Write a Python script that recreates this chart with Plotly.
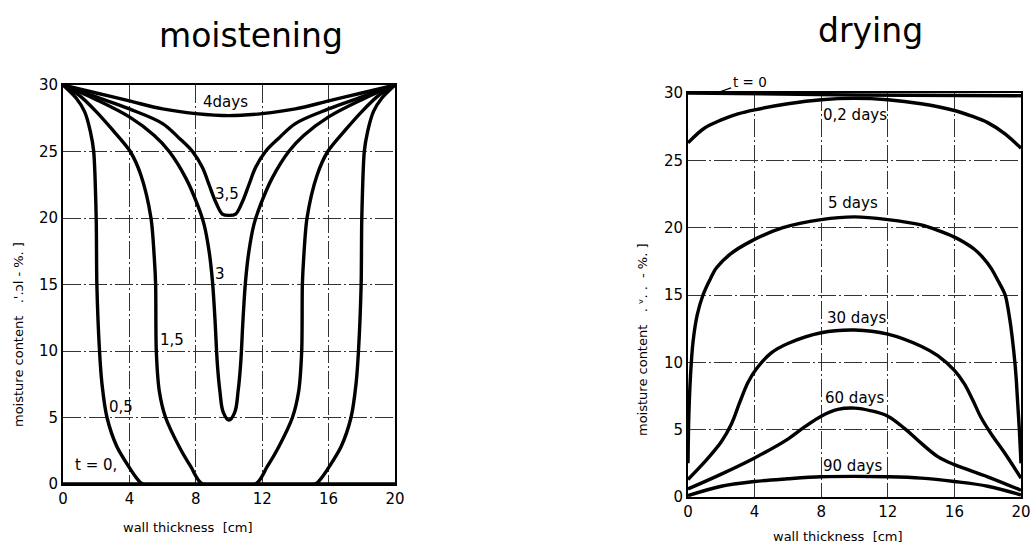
import plotly.graph_objects as go

# ---------------- data: moistening (left panel) ----------------
m_t0_x = [0, 20]
m_t0_y = [0, 0]

m_05_x = [0, 0.8, 1.3, 1.65, 1.85, 2.0, 2.04, 2.2, 2.35, 2.65, 3.25, 3.96, 4.4, 4.8, 15.2, 15.6, 16.04, 16.75, 17.35, 17.65, 17.8, 17.96, 18.0, 18.15, 18.35, 18.7, 19.2, 20]
m_05_y = [30, 29, 28, 26.5, 25, 20, 15, 10, 7.5, 5, 2.8, 1.3, 0.5, 0, 0, 0.5, 1.3, 2.8, 5, 7.5, 10, 15, 20, 25, 26.5, 28, 29, 30]

m_15_x = [0, 1, 2, 3, 4.05, 4.7, 5.3, 5.5, 5.58, 5.62, 5.8, 6.18, 7.0, 7.7, 8.4, 11.6, 12.3, 13.0, 13.82, 14.2, 14.38, 14.42, 14.5, 14.7, 15.3, 15.95, 17, 18, 19, 20]
m_15_y = [30, 29.2, 28, 26.6, 25, 23.2, 20, 17, 15, 10, 7, 5, 2.8, 1.3, 0, 0, 1.3, 2.8, 5, 7, 10, 15, 17, 20, 23.2, 25, 26.6, 28, 29.2, 30]

m_3_x = [0, 2, 4, 5.5, 6.4, 7.4, 8.1, 8.5, 8.8, 9.0, 9.15, 9.3, 9.45, 9.65, 10, 10.35, 10.55, 10.7, 10.85, 11.0, 11.2, 11.5, 11.9, 12.6, 13.6, 14.5, 16, 18, 20]
m_3_y = [30, 28.9, 27.6, 26.2, 25, 23, 21, 19.5, 17.5, 15.3, 12.5, 9, 7, 5.4, 4.8, 5.4, 7, 9, 12.5, 15.3, 17.5, 19.5, 21, 23, 25, 26.2, 27.6, 28.9, 30]

m_35_x = [0, 2, 4, 6, 7, 7.8, 8.4, 8.8, 9.2, 9.6, 10, 10.4, 10.8, 11.2, 11.6, 12.2, 13, 14, 16, 18, 20]
m_35_y = [30, 29.1, 28.2, 27.1, 26, 25, 23.8, 22.5, 21.2, 20.3, 20.2, 20.3, 21.2, 22.5, 23.8, 25, 26, 27.1, 28.2, 29.1, 30]

m_4_x = [0, 2, 4, 6, 8, 10, 12, 14, 16, 18, 20]
m_4_y = [30, 29.4, 28.8, 28.2, 27.85, 27.7, 27.85, 28.2, 28.8, 29.4, 30]

# ---------------- data: drying (right panel) ----------------
d_t0_x = [0, 10, 20]
d_t0_y = [30.0, 29.85, 29.8]

d_02_x = [0, 1, 2, 3, 4, 6, 8, 10, 12, 14, 16, 17, 18, 19, 20]
d_02_y = [26.3, 27.4, 28.0, 28.45, 28.75, 29.2, 29.5, 29.6, 29.5, 29.2, 28.7, 28.3, 27.8, 27.0, 25.9]

d_5_x = [0, 0.05, 0.15, 0.3, 0.55, 0.9, 1.3, 1.7, 2.5, 3.8, 5.7, 8, 10, 12, 14, 15, 16, 16.6, 17.2, 17.7, 18.2, 18.65, 19.05, 19.35, 19.55, 19.7, 19.8, 19.9, 20]
d_5_y = [2.5, 6, 9, 11.5, 13.5, 15, 16.1, 17, 18, 19, 20, 20.6, 20.8, 20.6, 20.2, 19.8, 19.3, 18.9, 18.4, 17.8, 17, 16, 15, 13, 11, 9, 7, 5, 2.5]

d_30_x = [0, 1, 2, 2.6, 3.1, 3.6, 4.1, 5, 6, 8, 10, 12, 14, 15, 16, 16.6, 17.1, 17.6, 18.2, 19, 20]
d_30_y = [1.3, 2.6, 4.1, 5.4, 7.0, 8.5, 9.5, 10.7, 11.4, 12.2, 12.4, 12.1, 11.2, 10.5, 9.4, 8.4, 7.2, 5.9, 4.7, 3.3, 1.4]

d_60_x = [0, 2, 4, 6, 7, 8, 9, 10, 11, 12, 13, 14, 15, 16, 18, 20]
d_60_y = [0.6, 1.7, 2.9, 4.3, 5.2, 6.0, 6.5, 6.6, 6.4, 6.0, 5.1, 4.0, 3.0, 2.4, 1.5, 0.5]

d_90_x = [0, 2, 4, 6, 8, 10, 12, 14, 16, 18, 20]
d_90_y = [0.1, 0.8, 1.15, 1.35, 1.5, 1.53, 1.5, 1.4, 1.15, 0.8, 0.15]

# ---------------- labels ----------------
m_labels = ["4days", "3,5", "3", "1,5", "0,5", "t = 0,"]
m_lab_x = [9.8, 9.85, 9.45, 6.55, 3.5, 2.0]
m_lab_y = [28.7, 21.8, 15.8, 10.8, 5.8, 1.4]

d_labels = ["0,2 days", "5 days", "30 days", "60 days", "90 days"]
d_lab_x = [10.05, 9.9, 10.1, 9.97, 9.9]
d_lab_y = [28.4, 21.8, 13.3, 7.35, 2.3]

x_ticks = [0, 4, 8, 12, 16, 20]
y_ticks = [0, 5, 10, 15, 20, 25, 30]

FONT = "DejaVu Sans"
LW = 3.4

fig = go.Figure()

def add_curve(x, y, xa, ya, sm):
    fig.add_trace(go.Scatter(x=x, y=y, mode="lines", xaxis=xa, yaxis=ya,
                             line=dict(color="black", width=LW, shape="spline", smoothing=sm),
                             showlegend=False, hoverinfo="skip"))

for xs, ys, sm in [(m_t0_x, m_t0_y, 0.7), (m_05_x, m_05_y, 0.7), (m_15_x, m_15_y, 0.8),
                   (m_3_x, m_3_y, 1.0), (m_35_x, m_35_y, 1.0), (m_4_x, m_4_y, 1.0)]:
    add_curve(xs, ys, "x", "y", sm)

for xs, ys, sm in [(d_t0_x, d_t0_y, 0.7), (d_02_x, d_02_y, 1.0), (d_5_x, d_5_y, 0.8),
                   (d_30_x, d_30_y, 1.0), (d_60_x, d_60_y, 1.0), (d_90_x, d_90_y, 1.0)]:
    add_curve(xs, ys, "x2", "y2", sm)

ax_common = dict(range=[0, 20], tickvals=x_ticks, showgrid=True, gridcolor="#333333", gridwidth=1,
                 griddash="18px,3px,2px,3px", showline=True, mirror=True, linecolor="black",
                 linewidth=2, zeroline=False, ticks="", automargin=False,
                 ticklabeloverflow="allow",
                 tickfont=dict(family=FONT, size=15, color="black"))
ay_common = dict(range=[0, 30], tickvals=y_ticks, showgrid=True, gridcolor="#333333", gridwidth=1,
                 griddash="18px,3px,2px,3px", showline=True, mirror=True, linecolor="black",
                 linewidth=2, zeroline=False, ticks="", automargin=False,
                 ticklabeloverflow="allow",
                 tickfont=dict(family=FONT, size=15, color="black"))

W, H = 1030, 551


def dx(px):
    return px / W


def dy(py):
    return 1 - py / H


fig.update_layout(
    width=W, height=H, margin=dict(l=0, r=0, t=0, b=0, pad=0), autosize=False,
    paper_bgcolor="white", plot_bgcolor="white",
    xaxis=dict(domain=[dx(63), dx(395)], anchor="y", **ax_common),
    yaxis=dict(domain=[dy(484), dy(85)], anchor="x", **ay_common),
    xaxis2=dict(domain=[dx(688), dx(1021)], anchor="y2", **ax_common),
    yaxis2=dict(domain=[dy(497), dy(93)], anchor="x2", **ay_common),
)

ann = []
for t, x, y in zip(m_labels, m_lab_x, m_lab_y):
    ann.append(dict(text=t, x=x, y=y, xref="x", yref="y", showarrow=False,
                    font=dict(family=FONT, size=15, color="black")))
for t, x, y in zip(d_labels, d_lab_x, d_lab_y):
    ann.append(dict(text=t, x=x, y=y, xref="x2", yref="y2", showarrow=False,
                    font=dict(family=FONT, size=15, color="black")))
# t = 0 label with leader on drying panel
ann.append(dict(text="t = 0", x=1.7, y=30.0, xref="x2", yref="y2", ax=3.7, ay=30.85,
                axref="x2", ayref="y2", showarrow=True, arrowhead=0, arrowwidth=1.2,
                arrowcolor="black", font=dict(family=FONT, size=13.5, color="black")))
# titles
ann.append(dict(text="moistening", x=dx(251), y=dy(35), xref="paper", yref="paper",
                xanchor="center", yanchor="middle",
                showarrow=False, font=dict(family=FONT, size=33, color="black")))
ann.append(dict(text="drying", x=dx(870), y=dy(31), xref="paper", yref="paper",
                xanchor="center", yanchor="middle",
                showarrow=False, font=dict(family=FONT, size=33, color="black")))
# axis titles
ann.append(dict(text="moisture content   .'.ɔl - %. ]", x=dx(18), y=dy(335), xref="paper",
                yref="paper", textangle=-90, showarrow=False, xanchor="center", yanchor="middle",
                font=dict(family=FONT, size=13, color="black")))
ann.append(dict(text="moisture content   . ᵛ. .  - %. ]", x=dx(642), y=dy(340), xref="paper",
                yref="paper", textangle=-90, showarrow=False, xanchor="center", yanchor="middle",
                font=dict(family=FONT, size=13, color="black")))
ann.append(dict(text="wall thickness  [cm]", x=dx(188), y=dy(527), xref="paper", yref="paper",
                xanchor="center", yanchor="middle",
                showarrow=False, font=dict(family=FONT, size=13, color="black")))
ann.append(dict(text="wall thickness  [cm]", x=dx(838), y=dy(536), xref="paper", yref="paper",
                xanchor="center", yanchor="middle",
                showarrow=False, font=dict(family=FONT, size=13, color="black")))
fig.update_layout(annotations=ann)

fig.write_html("out.html", config={"displayModeBar": False},
               post_script="document.body.style.margin='0';document.body.style.overflow='hidden';")
